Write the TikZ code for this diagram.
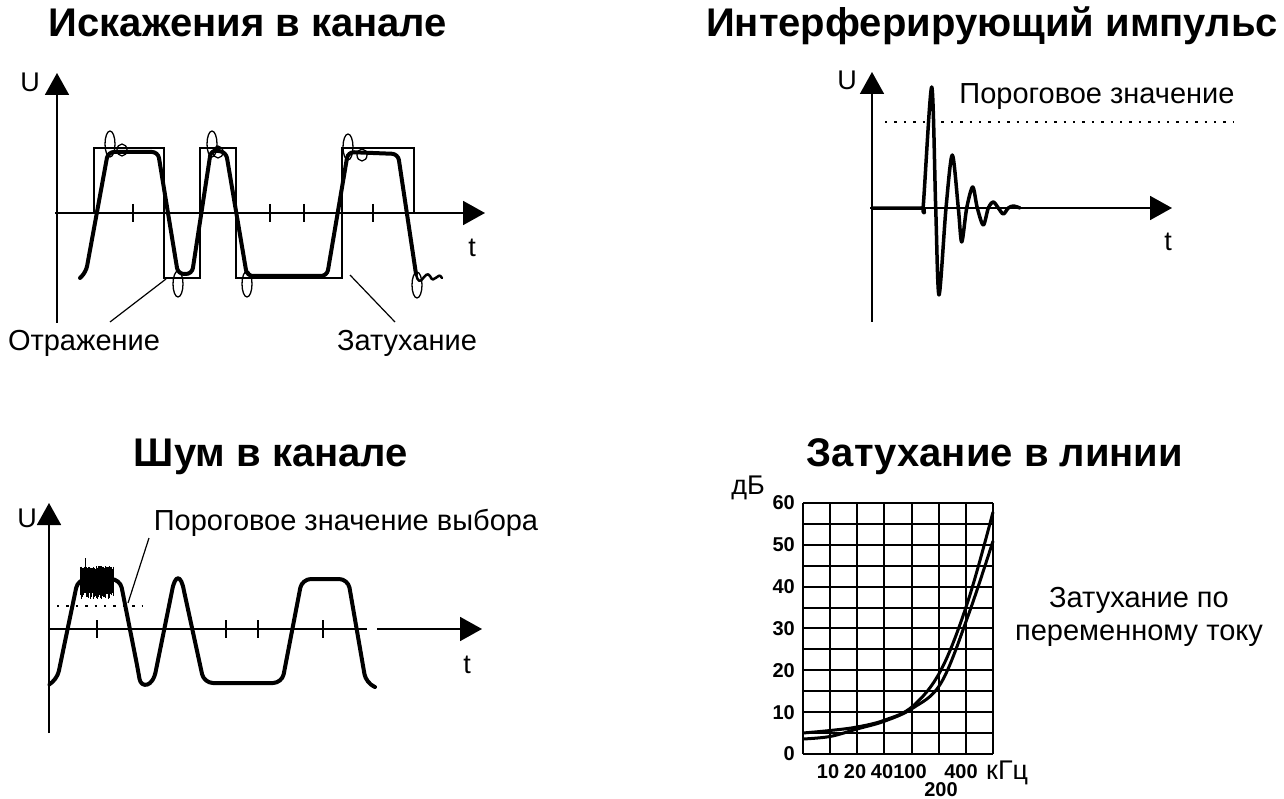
\documentclass[tikz,border=0pt]{standalone}
\usepackage{fontspec}
\setmainfont{Liberation Sans}
\usetikzlibrary{arrows.meta, positioning}

\begin{document}
\begin{tikzpicture}[
        x=1pt, y=-1pt,
        >={Triangle[length=22pt, width=24pt]},
        title/.style={font=\fontsize{40}{42}\selectfont\bfseries, inner sep=0pt, anchor=base},
        lbl/.style={font=\fontsize{29}{33}\selectfont, inner sep=0pt, align=center},
        axlbl/.style={font=\fontsize{27}{28}\selectfont, inner sep=0pt},
        num/.style={font=\fontsize{20}{20}\selectfont\bfseries, inner sep=0pt},
        axis/.style={line width=1.8pt},
        signal/.style={line width=4pt, line join=round, line cap=round},
        thinline/.style={line width=1.2pt},
        ring/.style={line width=1.3pt},
        tick/.style={line width=1.5pt},
        thresh/.style={line width=2.4pt, dash pattern=on 2.4pt off 7pt},
        gridline/.style={line width=2pt},
        curve/.style={line width=3pt, line join=round}
    ]
    \useasboundingbox (0,0) rectangle (1284,799);

    % --- Top left: distortions in the channel ---
    \node[title] (distTitle) at (248,37) {Искажения в канале};
    \draw[axis, ->] (57,323) -- (57,73);
    \draw[axis, ->] (55,213) -- (485,213);
    \node[axlbl] (distU) at (30,82) {U};
    \node[axlbl] (distT) at (472,248) {t};
    \foreach \x in {133,270,304,373}
        \draw[tick] (\x,204) -- (\x,222);
    \draw[thinline] (94,213) -- (94,148) -- (164,148) -- (164,278) -- (200,278) -- (200,148)
        -- (236,148) -- (236,278) -- (342,278) -- (342,148) -- (414,148) -- (414,213);
    \draw[signal, rounded corners=6pt] (80,278) -- (86,272) -- (108,152) -- (158,152) -- (178,274)
        -- (192,274) -- (211,150) -- (226,152) -- (247,276) -- (327,276) -- (348,152)
        -- (398,154) -- (416,274);
    \draw[signal, line width=2.5pt] (416,274) .. controls (420,292) and (425,268) .. (430,276)
        .. controls (434,286) and (438,270) .. (442,278);
    \foreach \x/\y in {110/144, 212/144, 348/147}
        \draw[ring] (\x,\y) ellipse [x radius=5, y radius=13];
    \foreach \x/\y in {178/284, 247/284, 417/285}
        \draw[ring] (\x,\y) ellipse [x radius=5, y radius=13];
    \foreach \x/\y in {122/150, 218/152, 362/155}
        \draw[ring] (\x,\y) ellipse [x radius=5, y radius=6];
    \node[lbl, anchor=base] (refl) at (84,350) {Отражение};
    \node[lbl, anchor=base] (damp) at (407,350) {Затухание};
    \coordinate (reflA) at (110,322);
    \coordinate (reflB) at (166,279);
    \coordinate (dampA) at (395,322);
    \coordinate (dampB) at (350,275);
    \draw[thinline] (reflA) -- (reflB);
    \draw[thinline] (dampA) -- (dampB);

    % --- Top right: interfering pulse ---
    \node[title] (pulseTitle) at (992,37) {Интерферирующий импульс};
    \draw[axis, ->] (872,322) -- (872,72);
    \draw[axis, ->] (870,208) -- (1172,208);
    \node[axlbl] (pulseU) at (847,80) {U};
    \node[axlbl] (pulseT) at (1168,242) {t};
    \draw[thresh] (885,122) -- (1233,122);
    \node[lbl] (pulseThr) at (1097,97) {Пороговое значение};
    \draw[signal, line width=3.5pt] plot[smooth, tension=0.5] coordinates {
        (872,208) (921,208) (923.3,205) (931.7,87) (935.7,208) (939,295) (946,208)
        (952.3,155) (958.3,208) (961.7,242) (966.7,208) (972.7,187) (977.3,208)
        (983.3,225) (988.3,208) (993.3,202) (998.3,208) (1003.3,214) (1008.3,208)
        (1013.3,206) (1020,208)};

    % --- Bottom left: noise in the channel ---
    \node[title] (noiseTitle) at (271,466) {Шум в канале};
    \draw[axis, ->] (49,733) -- (49,503);
    \draw[axis] (49,629) -- (367,629);
    \draw[axis, ->] (377,629) -- (482,629);
    \node[axlbl] (noiseU) at (27,518) {U};
    \node[axlbl] (noiseT) at (467,665) {t};
    \foreach \x in {97,226,258,323}
        \draw[tick] (\x,620) -- (\x,638);
    \draw[thresh] (57,606) -- (143,606);
    \draw[signal, rounded corners=9pt] (50,684) -- (57,680) -- (78,579) -- (120,579) -- (138,670)
        [sharp corners] .. controls (141,688) and (153,688) .. (156,670)
        -- (172,591) .. controls (175,574) and (181,574) .. (184,591)
        [rounded corners=9pt] -- (204,683) -- (282,683) -- (302,579)
        -- (348,579) -- (366,683) -- (375,687);
    \pgfmathsetseed{7}
    \foreach \i in {0,...,66} {
        \pgfmathsetmacro\xx{80+\i*0.5}
        \pgfmathsetmacro\ya{566+rnd*5}
        \pgfmathsetmacro\yb{591+rnd*8}
        \draw[line width=0.8pt] (\xx,\ya) -- (\xx,\yb);
    }
    \draw[line width=1pt] (85,558) -- (85,570);
    \node[lbl] (noiseThr) at (346,523) {Пороговое значение выбора};
    \coordinate (noiseA) at (149,538);
    \coordinate (noiseB) at (128,603);
    \draw[thinline] (noiseA) -- (noiseB);

    % --- Bottom right: line attenuation ---
    \node[title] (lossTitle) at (995,466) {Затухание в линии};
    \foreach \i in {0,...,7}
        \draw[gridline] (803+27.14*\i,503) -- (803+27.14*\i,754);
    \foreach \j in {0,...,12}
        \draw[gridline] (803,754-20.92*\j) -- (993,754-20.92*\j);
    \foreach \v/\n in {0/n0, 10/n10, 20/n20, 30/n30, 40/n40, 50/n50, 60/n60}
        \node[num, anchor=east] (\n) at (795,754-4.183*\v) {\v};
    \node[num] (f10) at (828,772) {10};
    \node[num] (f20) at (855,772) {20};
    \node[num] (f40) at (882,772) {40};
    \node[num] (f100) at (910,772) {100};
    \node[num] (f200) at (941,790) {200};
    \node[num] (f400) at (961,772) {400};
    \node[axlbl, anchor=west] (khz) at (986,773) {кГц};
    \node[axlbl] (db) at (748,488) {дБ};
    \draw[curve] plot[smooth, tension=0.6] coordinates {
        (803,733) (830,730.5) (857,727) (885,720) (913,706) (941,670) (968,601) (993,512)};
    \draw[curve] plot[smooth, tension=0.6] coordinates {
        (803,739) (830,736.5) (857,729) (885,721) (913,708) (941,683) (968,616) (993,541)};
    \node[lbl] (acLoss) at (1139,617) {Затухание по\\переменному току};
\end{tikzpicture}
\end{document}
